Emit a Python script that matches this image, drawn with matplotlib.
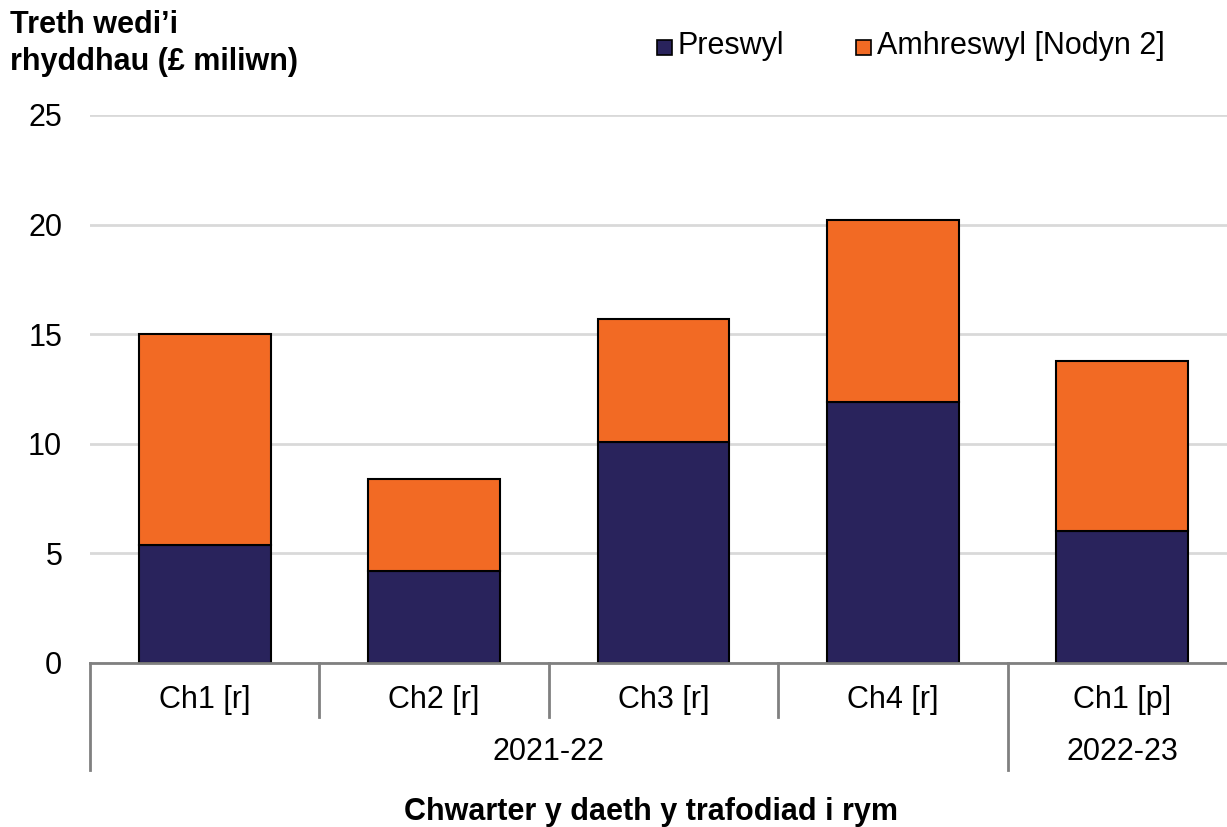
import matplotlib.pyplot as plt
from matplotlib.patches import Rectangle
import matplotlib.transforms as mtransforms

plt.rcParams['font.family'] = ['Liberation Sans', 'DejaVu Sans']

# Data
quarters = ['Ch1 [r]', 'Ch2 [r]', 'Ch3 [r]', 'Ch4 [r]', 'Ch1 [p]']
years = ['2021-22', '2022-23']
year_spans = [(0, 3), (4, 4)]  # first and last quarter index of each year
preswyl = [5.4, 4.2, 10.1, 11.9, 6.0]
amhreswyl = [9.6, 4.2, 5.6, 8.3, 7.8]

navy = '#29235c'
orange = '#f26a24'
fs = 22

W, H = 1227, 827
fig = plt.figure(figsize=(W / 100, H / 100), dpi=100)

# axes in pixel positions
left, right, top, bottom = 90, 1237, 115, 663
ax = fig.add_axes([left / W, 1 - bottom / H, (right - left) / W, (bottom - top) / H])

x = list(range(len(quarters)))
bw = 0.575
ax.bar(x, preswyl, width=bw, color=navy, edgecolor='black', linewidth=1.5, zorder=3)
ax.bar(x, amhreswyl, width=bw, bottom=preswyl, color=orange, edgecolor='black',
       linewidth=1.5, zorder=3)

ax.set_xlim(-0.5, len(quarters) - 0.5)
ax.set_ylim(0, 25)
ax.set_yticks(range(0, 26, 5))
ax.yaxis.grid(True, color='#d9d9d9', linewidth=2, zorder=0)
ax.tick_params(axis='y', length=0, pad=20, labelsize=fs)
ax.set_xticks([])
for s in ['top', 'right', 'left']:
    ax.spines[s].set_visible(False)
ax.spines['bottom'].set_color('#808080')
ax.spines['bottom'].set_linewidth(2)
ax.spines['bottom'].set_zorder(4)

# multi-level category axis
ph = bottom - top
def ay(px):
    return (bottom - px) / ph

trans = mtransforms.blended_transform_factory(ax.transData, ax.transAxes)
for i, q in enumerate(quarters):
    ax.text(i, ay(700), q, transform=trans, ha='center', va='center', fontsize=fs)

# separators
seps = [i - 0.5 for i in range(len(quarters))]
year_starts = [s - 0.5 for s, e in year_spans]
for sx in seps:
    ybot = ay(770) if sx in year_starts else ay(717)
    ax.plot([sx, sx], [0, ybot], transform=trans, color='#808080', linewidth=2,
            clip_on=False)

for yl, (s, e) in zip(years, year_spans):
    ax.text((s + e) / 2, ay(752), yl, transform=trans, ha='center', va='center',
            fontsize=fs)

fig.text(651 / W, 1 - 812 / H, 'Chwarter y daeth y trafodiad i rym', ha='center',
         va='center', fontsize=fs, fontweight='bold')

# y-axis title
fig.text(10 / W, 1 - 10 / H, 'Treth wedi\u2019i\nrhyddhau (\u00a3 miliwn)', ha='left',
         va='top', fontsize=fs, fontweight='bold', linespacing=1.3)

# legend
for sq_x, txt_x, col, lab in [(657, 678, navy, 'Preswyl'),
                              (856, 877, orange, 'Amhreswyl [Nodyn 2]')]:
    fig.patches.append(Rectangle((sq_x / W, 1 - 55 / H), 15 / W, 15 / H,
                                 transform=fig.transFigure, facecolor=col,
                                 edgecolor='black', linewidth=1.2))
    fig.text(txt_x / W, 1 - 46 / H, lab, ha='left', va='center', fontsize=fs)

fig.savefig('out.png', dpi=100)
